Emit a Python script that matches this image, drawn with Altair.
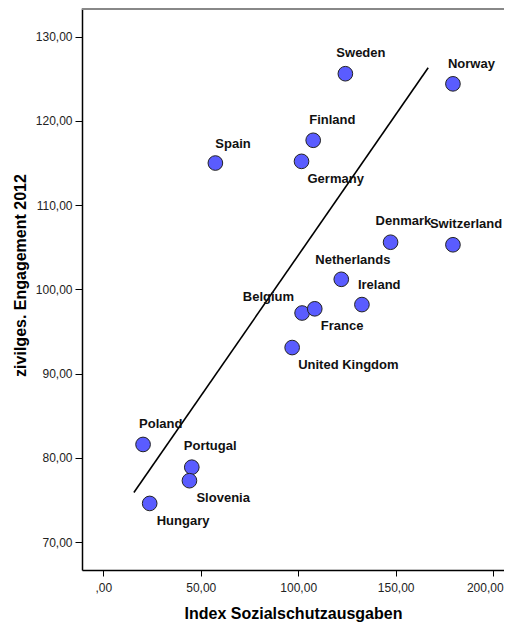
import altair as alt
import pandas as pd

# ---- data ----
countries = ["Sweden", "Norway", "Finland", "Spain", "Germany", "Denmark",
             "Switzerland", "Netherlands", "Ireland", "Belgium", "France",
             "United Kingdom", "Poland", "Portugal", "Slovenia", "Hungary"]
sozialschutz = [124.2, 179.4, 107.7, 57.5, 101.7, 147.4, 179.4, 122.1,
                132.7, 102.0, 108.5, 96.9, 20.4, 45.4, 44.2, 23.8]
engagement = [125.6, 124.4, 117.7, 115.0, 115.2, 105.6, 105.3, 101.2,
              98.2, 97.2, 97.7, 93.1, 81.6, 78.9, 77.3, 74.6]

# fit line end points (data space)
fit_x = [15.7, 166.7]
fit_y = [75.9, 126.3]

# axis ticks
x_ticks = [0, 50, 100, 150, 200]
y_ticks = [70, 80, 90, 100, 110, 120, 130]

# ---- label placement (style) ----
label_dx = [-9, -5, -4, 0, 6, -15, -23, -26, -4, -8, 6, 6, -4, -8, 7, 7]
label_dy = [-21, -20, -20, -19, 18, -21, -21, -19, -20, -16, 17, 17, -20, -21, 17, 18]
label_align = ["left"] * 9 + ["right"] + ["left"] * 6

df = pd.DataFrame({"country": countries, "x": sozialschutz, "y": engagement})
fit_df = pd.DataFrame({"x": fit_x, "y": fit_y})

FONT = "Liberation Sans"
PLOT_W = 422
x_scale = alt.Scale(domain=[-10.93, 205.6], nice=False, zero=False)
y_scale = alt.Scale(domain=[66.7, 133.4], nice=False, zero=False)

label_expr = "datum.value == 0 ? ',00' : replace(format(datum.value, '.2f'), '.', ',')"

x_enc = alt.X("x:Q", scale=x_scale, axis=alt.Axis(
    values=x_ticks, labelExpr=label_expr, title="Index Sozialschutzausgaben",
    grid=False, domainColor="#000", domainWidth=1.5, tickColor="#000",
    tickSize=6, labelPadding=6, labelFont=FONT, labelFontSize=12,
    labelColor="#222",
    labelAlign={"condition": {"test": "datum.value == 200", "value": "right"}, "value": "center"},
    labelOffset={"condition": {"test": "datum.value == 200", "value": 10}, "value": 0},
    titleFont=FONT, titleFontSize=16, titleFontWeight="bold",
    titleColor="#000", titleBaseline="alphabetic", titleY=48))
y_enc = alt.Y("y:Q", scale=y_scale, axis=alt.Axis(
    values=y_ticks, labelExpr=label_expr, title="zivilges. Engagement 2012",
    grid=False, domainColor="#000", domainWidth=1.5, tickColor="#000",
    tickSize=7, labelPadding=3, labelFont=FONT, labelFontSize=12,
    labelColor="#222", titleFont=FONT, titleFontSize=16, titleFontWeight="bold",
    titleColor="#000", titleAngle=-90, titleBaseline="middle", titleAlign="center",
    titleX=-62, titleY=267))

top_line = alt.Chart(pd.DataFrame({"k": [0]})).mark_rule(
    color="#888", strokeWidth=2).encode(
    y=alt.value(1), x=alt.value(0), x2=alt.value(PLOT_W))

fit = alt.Chart(fit_df).mark_line(color="#000", strokeWidth=1.6).encode(
    x=alt.X("x:Q", scale=x_scale), y=alt.Y("y:Q", scale=y_scale))

points = alt.Chart(df).mark_circle(
    size=215, opacity=1, color="#5a5cff", stroke="#222", strokeWidth=1).encode(
    x=x_enc, y=y_enc)

layers = [top_line, fit, points]
for name, dx, dy, al in zip(countries, label_dx, label_dy, label_align):
    layers.append(
        alt.Chart(df).transform_filter(alt.datum.country == name).mark_text(
            align=al, baseline="middle", dx=dx, dy=dy, font=FONT,
            fontSize=13, fontWeight="bold", color="#111").encode(
            x=alt.X("x:Q", scale=x_scale), y=alt.Y("y:Q", scale=y_scale),
            text="country:N"))

chart = alt.layer(*layers).properties(
    width=PLOT_W, height=562,
    autosize=alt.AutoSizeParams(type="none"),
    padding={"left": 74, "top": 0, "right": 0, "bottom": 52},
).configure_view(stroke=None).configure(background="white")

chart.save("out.html", embed_options={"renderer": "svg", "actions": False})
